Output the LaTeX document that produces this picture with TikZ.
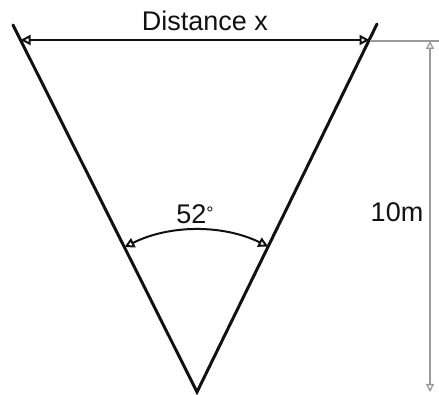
\documentclass[tikz,border=0pt]{standalone}
\usepackage{xcolor}
\usepackage{fontspec}
\setmainfont{Liberation Sans}
\usepackage{tikz}
\usetikzlibrary{positioning, arrows.meta, calc}
\definecolor{dimgray}{HTML}{9A9A9A}
\definecolor{inkblack}{HTML}{111111}

\tikzset{
  sideline/.style={draw=inkblack, line width=3pt, line cap=round},
  dimline/.style={draw=inkblack, line width=2pt, {Triangle[open, length=10pt, width=10pt]}-{Triangle[open, length=10pt, width=10pt]}},
  graydim/.style={draw=dimgray, line width=1.3pt},
  label/.style={font=\fontsize{27}{30}\selectfont, inner sep=0pt, text=inkblack}
}

\begin{document}
\begin{tikzpicture}[x=1pt, y=1pt]
    \useasboundingbox (0,0) rectangle (439,395);
    % the two sides of the view
    \coordinate (apex) at (197,3);
    \coordinate (ltop) at (13,370);
    \coordinate (rtop) at (377,371);
    \draw[sideline] (ltop) -- (apex) -- (rtop);

    % width across the top
    \coordinate (wl) at (20.5,355);
    \coordinate (wr) at (369.5,355);
    \draw[dimline] (wl) -- (wr);
    \node[label] (dist) at (205,374) {Distance x};

    % angle between the sides
    \coordinate (al) at ($(apex)+(116.6:162)$);
    \draw[dimline] (al) arc[start angle=116.6, end angle=63.9, radius=162];
    \node[label] (ang) at (195,181) {52\raisebox{4pt}{\fontsize{18}{20}\selectfont°}};

    % height on the right
    \coordinate (hl) at (370,354);
    \coordinate (hr) at (439,354);
    \coordinate (vtop) at (430,354);
    \coordinate (vbot) at (430,3);
    \draw[graydim] (hl) -- (hr);
    \draw[graydim, {Triangle[open, length=8pt, width=8pt]}-{Triangle[open, length=8pt, width=8pt]}] (vtop) -- (vbot);
    \node[label] (height) at (397,183) {10m};
  \end{tikzpicture}
\end{document}
